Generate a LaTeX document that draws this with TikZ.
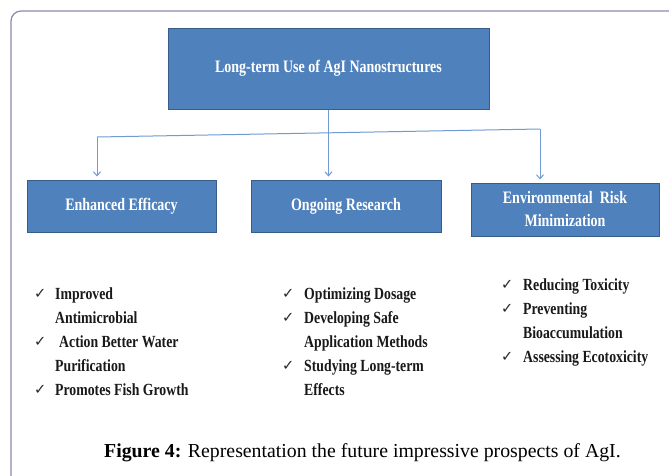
\documentclass[tikz,border=0pt]{standalone}
\usepackage{fontspec}
\setmainfont{Liberation Serif}
\newfontfamily\boxfont[FakeStretch=0.8]{Liberation Serif}
\newfontfamily\listfont[FakeStretch=0.81]{Liberation Serif}
\newfontfamily\symfont{DejaVu Sans}
\usetikzlibrary{arrows.meta}
\definecolor{boxblue}{HTML}{4F81BD}
\definecolor{boxborder}{HTML}{385D8A}
\definecolor{connblue}{HTML}{6F9BD1}
\definecolor{framecol}{HTML}{8E88B0}
\tikzset{
  box/.style={draw=boxborder, line width=1pt, fill=boxblue, text=white,
    font=\boxfont\bfseries\fontsize{17.5}{23}\selectfont, align=center, inner sep=0pt},
  conn/.style={draw=connblue, line width=1pt},
  arr/.style={conn, -{Straight Barb[length=4pt,width=7pt]}, shorten >=3pt},
  chk/.style={anchor=base west, inner sep=0pt, font=\symfont\fontsize{14.5}{16}\selectfont, text=black!85},
  item/.style={anchor=base west, inner sep=0pt, font=\listfont\bfseries\fontsize{17}{20}\selectfont, text=black!90},
}
\begin{document}
\begin{tikzpicture}[x=1pt,y=-1pt]
\useasboundingbox (0,0) rectangle (669,475);
\fill[white] (0,0) rectangle (669,475);
% frame
\draw[framecol, line width=1.2pt, rounded corners=10pt] (671,11) -- (11,11) -- (11,477);

% boxes
\node[box, minimum width=321pt, minimum height=81pt] (top) at (328.5,68.5) {Long-term Use of AgI Nanostructures};
\node[box, minimum width=189pt, minimum height=52pt] (eff) at (121.5,206) {Enhanced Efficacy};
\node[box, minimum width=190pt, minimum height=52pt] (ong) at (346,206) {Ongoing Research};
\node[box, minimum width=188pt, minimum height=53pt] (env) at (565,209.5) {Environmental\ \ Risk\\Minimization};

% connectors
\coordinate (j) at (top.south |- 0,133);
\coordinate (jl) at (97,137);
\coordinate (jr) at (540,129);
\draw[conn] (top.south) -- (j);
\draw[conn] (jl) -- (jr);
\draw[arr] (jl) -- (jl |- eff.north);
\draw[arr] (j) -- (j |- ong.north);
\draw[arr] (jr) -- (jr |- env.north);

% column 1
\node[chk] (c1a) at (34,298) {✓};
\node[item] (t1a) at (55,299) {Improved};
\node[item] (t1b) at (55,323) {Antimicrobial};
\node[chk] (c1b) at (34,346) {✓};
\node[item] (t1c) at (59,347) {Action Better Water};
\node[item] (t1d) at (55,371) {Purification};
\node[chk] (c1c) at (34,394) {✓};
\node[item] (t1e) at (55,395) {Promotes Fish Growth};

% column 2
\node[chk] (c2a) at (282,298) {✓};
\node[item] (t2a) at (304,299) {Optimizing Dosage};
\node[chk] (c2b) at (282,322) {✓};
\node[item] (t2b) at (304,323) {Developing Safe};
\node[item] (t2c) at (304,347) {Application Methods};
\node[chk] (c2c) at (282,370) {✓};
\node[item] (t2d) at (304,371) {Studying Long-term};
\node[item] (t2e) at (304,395) {Effects};

% column 3
\node[chk] (c3a) at (501,289) {✓};
\node[item] (t3a) at (523,290) {Reducing Toxicity};
\node[chk] (c3b) at (501,313) {✓};
\node[item] (t3b) at (523,314) {Preventing};
\node[item] (t3c) at (523,338) {Bioaccumulation};
\node[chk] (c3c) at (501,361) {✓};
\node[item] (t3d) at (523,362) {Assessing Ecotoxicity};

% caption
\node[anchor=base west, inner sep=0pt, font=\fontsize{19.8}{22}\selectfont] (cap) at (104,457) {\textbf{Figure 4:} Representation the future impressive prospects of AgI.};
\end{tikzpicture}
\end{document}
